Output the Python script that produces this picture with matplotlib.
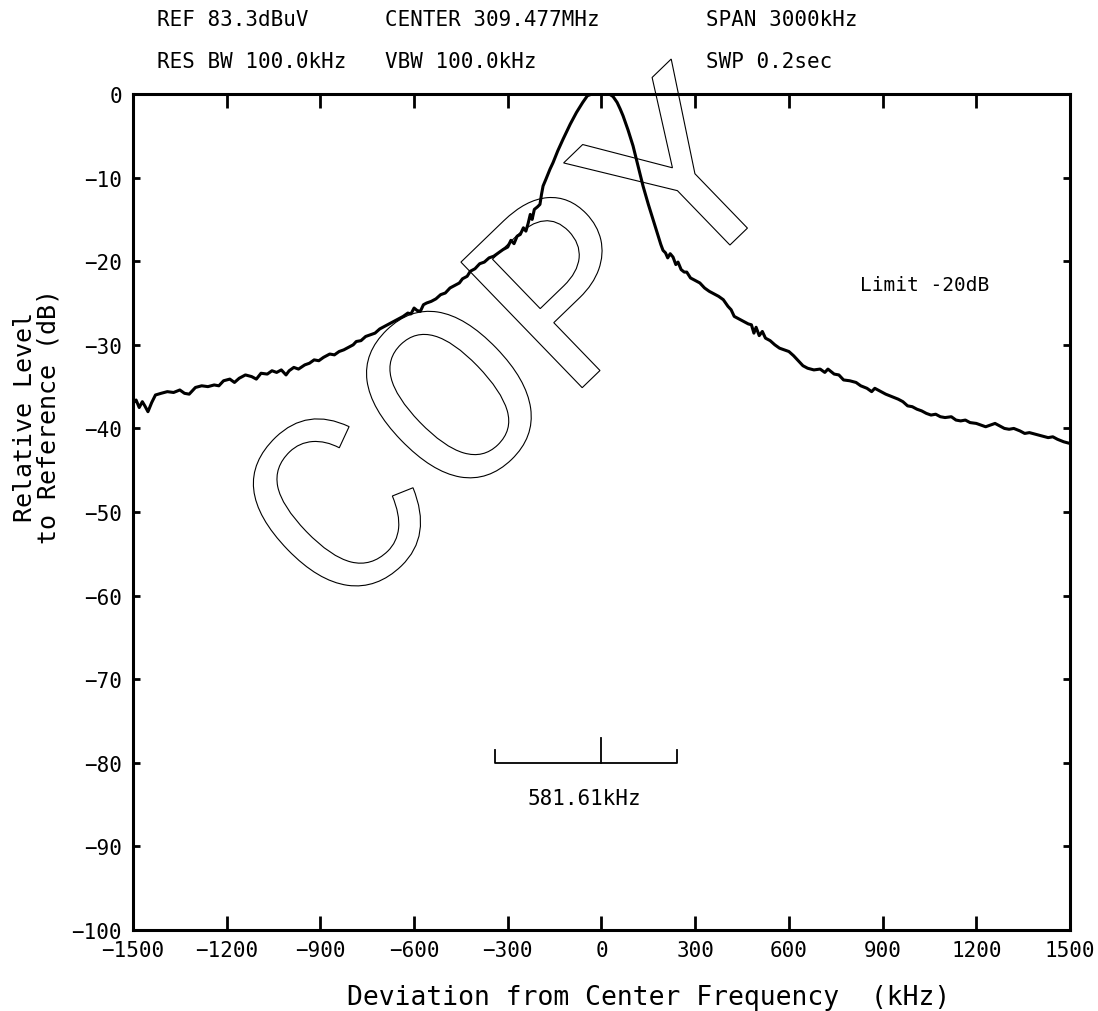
import matplotlib
matplotlib.use("Agg")
import matplotlib.pyplot as plt
from matplotlib.textpath import TextPath
from matplotlib.patches import PathPatch
from matplotlib.font_manager import FontProperties
from matplotlib.transforms import Affine2D

# spectrum trace (kHz, dB)
freq_left = [-1500, -1490, -1480, -1470, -1462, -1452, -1440, -1428, -1410, -1390,
             -1370, -1350, -1335, -1320, -1300, -1280, -1260, -1240, -1225, -1210,
             -1190, -1175, -1160, -1140, -1120, -1105, -1090, -1070, -1055, -1040,
             -1025, -1010, -1000, -985, -970, -950, -935, -920, -905, -890,
             -870, -855, -840, -825, -810, -795, -785, -770, -755, -740,
             -725, -710, -695, -680, -665, -650, -635, -620, -610, -600,
             -590, -580, -570, -560, -545, -530, -515, -500, -485, -470,
             -455, -445, -430, -420, -405, -390, -375, -360, -345, -330,
             -315, -300, -290, -280, -270, -260, -250, -242, -235, -228,
             -222, -215, -205, -197, -192, -187, -178, -165, -155, -140,
             -123, -100, -80, -60, -45, -30, 0, 25]
level_left = [-37.0, -36.6, -37.5, -36.8, -37.3, -38.0, -36.9, -36.0, -35.8, -35.6,
              -35.7, -35.4, -35.8, -35.9, -35.1, -34.9, -35.0, -34.8, -34.9, -34.3,
              -34.1, -34.5, -34.0, -33.6, -33.8, -34.1, -33.4, -33.5, -33.1, -33.3,
              -33.0, -33.6, -33.1, -32.7, -32.9, -32.4, -32.2, -31.8, -31.9, -31.5,
              -31.1, -31.2, -30.8, -30.6, -30.3, -30.0, -29.6, -29.5, -29.0, -28.8,
              -28.6, -28.1, -27.8, -27.5, -27.2, -26.9, -26.6, -26.2, -26.3, -25.6,
              -25.9, -26.0, -25.2, -25.0, -24.8, -24.5, -24.0, -23.8, -23.2, -22.9,
              -22.6, -22.1, -21.8, -21.2, -20.9, -20.3, -20.1, -19.6, -19.4, -19.0,
              -18.6, -18.3, -17.5, -17.9, -17.0, -16.8, -16.0, -16.4, -15.5, -14.4,
              -15.0, -13.8, -13.5, -13.2, -12.0, -11.0, -10.2, -9.0, -8.2, -6.8,
              -5.4, -3.6, -2.2, -1.0, -0.2, 0.0, 0.0, 0.0]

freq_right = [37, 50, 60, 69, 85, 101, 117, 133, 150, 165,
              180, 190, 197, 205, 212, 220, 229, 238, 245, 255,
              265, 273, 285, 300, 315, 330, 345, 360, 375, 390,
              405, 415, 425, 440, 455, 470, 480, 488, 495, 505,
              515, 525, 540, 555, 570, 585, 600, 615, 630, 645,
              660, 680, 700, 715, 725, 745, 760, 775, 795, 815,
              830, 850, 865, 875, 890, 910, 930, 950, 965, 980,
              995, 1010, 1025, 1040, 1055, 1070, 1085, 1100, 1120, 1135,
              1150, 1165, 1180, 1200, 1215, 1230, 1245, 1260, 1275, 1290,
              1305, 1320, 1340, 1355, 1370, 1390, 1410, 1430, 1445, 1460,
              1480, 1500]
level_right = [-0.3, -1.0, -1.8, -2.6, -4.3, -6.2, -8.6, -11.0, -13.2, -15.0,
               -16.8, -18.0, -18.7, -19.0, -19.6, -19.1, -19.5, -20.4, -20.1, -21.0,
               -21.3, -21.3, -22.0, -22.3, -22.6, -23.2, -23.6, -23.9, -24.2, -24.6,
               -25.4, -25.8, -26.6, -26.9, -27.2, -27.5, -27.6, -28.6, -27.9, -28.9,
               -28.4, -29.2, -29.5, -30.0, -30.4, -30.6, -30.8, -31.3, -31.9, -32.5,
               -32.8, -33.0, -32.9, -33.3, -32.9, -33.5, -33.6, -34.2, -34.3, -34.5,
               -34.9, -35.2, -35.6, -35.2, -35.5, -35.9, -36.2, -36.5, -36.8, -37.3,
               -37.4, -37.7, -37.9, -38.2, -38.4, -38.3, -38.6, -38.7, -38.6, -39.0,
               -39.1, -39.0, -39.3, -39.4, -39.6, -39.8, -39.6, -39.4, -39.7, -40.0,
               -40.1, -40.0, -40.3, -40.6, -40.5, -40.7, -40.9, -41.1, -41.0, -41.3,
               -41.6, -41.8]

freq_khz = freq_left + freq_right
level_db = level_left + level_right

x_ticks = [-1500, -1200, -900, -600, -300, 0, 300, 600, 900, 1200, 1500]
y_ticks = [0, -10, -20, -30, -40, -50, -60, -70, -80, -90, -100]

header = [("REF 83.3dBuV", "RES BW 100.0kHz"),
          ("CENTER 309.477MHz", "VBW 100.0kHz"),
          ("SPAN 3000kHz", "SWP 0.2sec")]

# occupied bandwidth marker
obw_left, obw_right, obw_center = -340, 241.61, 0
obw_level = -80

mono = "DejaVu Sans Mono"
plt.rcParams["font.family"] = mono

fig = plt.figure(figsize=(10.98, 10.12), dpi=100)
ax = fig.add_axes([0.1211, 0.0800, 0.8534, 0.8261])

ax.plot(freq_khz, level_db, color="black", lw=2.2, zorder=3, solid_joinstyle="round")

ax.set_xlim(-1500, 1500)
ax.set_ylim(-100, 0)
ax.set_xticks(x_ticks)
ax.set_yticks(y_ticks)
ax.tick_params(axis="x", direction="in", length=10, width=2, top=True,
               labelsize=15, pad=7)
ax.tick_params(axis="y", direction="in", length=5, width=2, right=True,
               labelsize=15, pad=8)
for s in ax.spines.values():
    s.set_linewidth(2.2)

ax.set_xlabel("Deviation from Center Frequency  (kHz)", fontsize=19, labelpad=6)
ax.xaxis.set_label_coords(0.55, -0.065)
ax.text(-0.1025, 0.615, "Relative Level\nto Reference (dB)", transform=ax.transAxes,
        rotation=90, ha="center", va="center", fontsize=18, linespacing=1.0)

# header block
for i, (top, bottom) in enumerate(header):
    x0 = [0.143, 0.3506, 0.643][i]
    fig.text(x0, 0.980, top, fontsize=15, va="center", ha="left")
    fig.text(x0, 0.9387, bottom, fontsize=15, va="center", ha="left")

ax.text(1036, -22.8, "Limit -20dB", fontsize=14, ha="center", va="center")

# bandwidth bracket
ax.plot([obw_left, obw_left, obw_right, obw_right],
        [-78.5, obw_level, obw_level, -78.5], color="black", lw=1.3)
ax.plot([obw_center, obw_center], [obw_level, -77], color="black", lw=1.3)
ax.text((obw_left + obw_right) / 2 - 5, -84.2, "581.61kHz", fontsize=15,
        ha="center", va="center")

# "COPY" watermark, outlined letters
tp = TextPath((0, 0), "COPY", size=1, prop=FontProperties(family="Liberation Mono"))
bb = tp.get_extents()
trans = (Affine2D().translate(-(bb.x0 + bb.x1) / 2, -(bb.y0 + bb.y1) / 2)
         .scale(2.65).rotate_deg(44).translate(5.10, 6.75) + fig.dpi_scale_trans)
wm = PathPatch(tp, transform=trans, facecolor="none", edgecolor="black", lw=0.8,
               zorder=1.5, clip_on=False)
ax.add_patch(wm)

fig.savefig("out.png", dpi=100)
